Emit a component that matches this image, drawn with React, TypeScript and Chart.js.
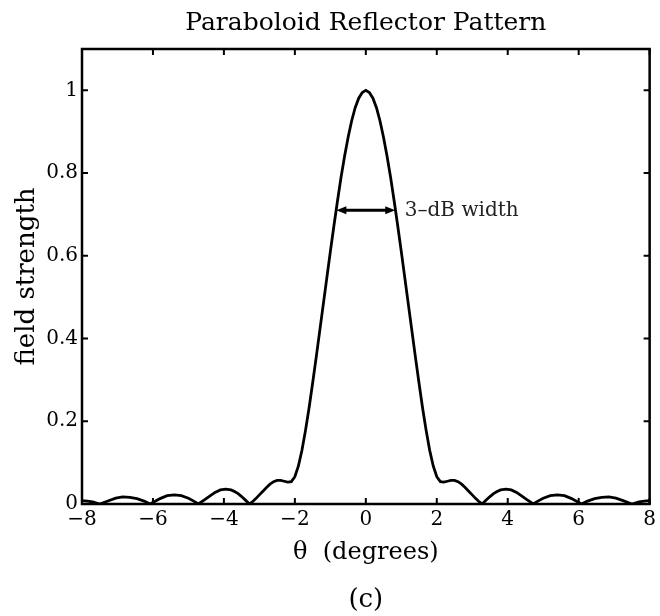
import { useEffect, useRef } from 'react';
import { Chart, registerables } from 'chart.js';

Chart.register(...registerables);

// ---- data ----
const thetaDeg = [
  -8.0, -7.85, -7.7, -7.5, -7.25, -7.05, -6.85, -6.65, -6.45, -6.25, -6.08,
  -5.95, -5.8, -5.6, -5.4, -5.2, -5.0, -4.85, -4.72, -4.55, -4.4, -4.25, -4.1,
  -3.95, -3.8, -3.7, -3.6, -3.5, -3.4, -3.28, -3.2, -3.1, -3.0, -2.9, -2.8,
  -2.7, -2.6, -2.5, -2.4, -2.3, -2.2, -2.1, -2.0, -1.9, -1.8, -1.7, -1.6, -1.5,
  -1.4, -1.3, -1.2, -1.1, -1.0, -0.9, -0.8, -0.7, -0.6, -0.5, -0.4, -0.3, -0.2,
  -0.1, 0.0, 0.1, 0.2, 0.3, 0.4, 0.5, 0.6, 0.7, 0.8, 0.9, 1.0, 1.1, 1.2, 1.3,
  1.4, 1.5, 1.6, 1.7, 1.8, 1.9, 2.0, 2.1, 2.2, 2.3, 2.4, 2.5, 2.6, 2.7, 2.8,
  2.9, 3.0, 3.1, 3.2, 3.28, 3.4, 3.5, 3.6, 3.7, 3.8, 3.95, 4.1, 4.25, 4.4, 4.55,
  4.72, 4.85, 5.0, 5.2, 5.4, 5.6, 5.8, 5.95, 6.08, 6.25, 6.45, 6.65, 6.85, 7.05,
  7.25, 7.5, 7.7, 7.85, 8.0,
];

const fieldStrength = [
  0.008, 0.007, 0.005, 0.0, 0.008, 0.014, 0.017, 0.016, 0.013, 0.007, 0.0,
  0.006, 0.013, 0.02, 0.022, 0.02, 0.014, 0.007, 0.0, 0.01, 0.019, 0.028, 0.034,
  0.036, 0.034, 0.03, 0.025, 0.018, 0.01, 0.0, 0.005, 0.013, 0.022, 0.031, 0.04,
  0.048, 0.054, 0.057, 0.057, 0.055, 0.053, 0.054, 0.066, 0.092, 0.13, 0.178,
  0.232, 0.292, 0.354, 0.418, 0.482, 0.546, 0.61, 0.672, 0.732, 0.789, 0.84,
  0.886, 0.926, 0.958, 0.981, 0.995, 1.0, 0.995, 0.981, 0.958, 0.926, 0.886,
  0.84, 0.789, 0.732, 0.672, 0.61, 0.546, 0.482, 0.418, 0.354, 0.292, 0.232,
  0.178, 0.13, 0.092, 0.066, 0.054, 0.053, 0.055, 0.057, 0.057, 0.054, 0.048,
  0.04, 0.031, 0.022, 0.013, 0.005, 0.0, 0.01, 0.018, 0.025, 0.03, 0.034, 0.036,
  0.034, 0.028, 0.019, 0.01, 0.0, 0.007, 0.014, 0.02, 0.022, 0.02, 0.013, 0.006,
  0.0, 0.007, 0.013, 0.016, 0.017, 0.014, 0.008, 0.0, 0.005, 0.007, 0.008,
];

const xRange = [-8, 8];
const yRange = [0, 1.1];
const xStep = 2;
const yStep = 0.2;

// 3-dB width annotation
const arrowEnds = [-0.83, 0.83];
const arrowLevel = 0.71;
const arrowLabelAt = 1.1;
const arrowLabel = '3\u2013dB width';

const titleText = 'Paraboloid Reflector Pattern';
const xTitle = '\u03b8  (degrees)';
const yTitle = 'field strength';
const captionText = '(c)';

const FONT = '"DejaVu Serif", "Liberation Serif", serif';

export default function App() {
  const ref = useRef<HTMLCanvasElement>(null);

  useEffect(() => {
    const canvas = ref.current;
    if (!canvas) return;

    const framePlugin = {
      id: 'frameTicksArrow',
      afterDatasetsDraw(chart: any) {
        const { ctx, chartArea: a, scales } = chart;
        const xs = scales.x;
        const ys = scales.y;
        const TL = 6;
        ctx.save();
        ctx.strokeStyle = '#000';
        ctx.lineWidth = 2.5;
        ctx.strokeRect(a.left, a.top, a.right - a.left, a.bottom - a.top);
        ctx.lineWidth = 2;
        ctx.beginPath();
        for (const t of xs.ticks) {
          const px = xs.getPixelForValue(t.value);
          ctx.moveTo(px, a.bottom);
          ctx.lineTo(px, a.bottom - TL);
          ctx.moveTo(px, a.top);
          ctx.lineTo(px, a.top + TL);
        }
        for (const t of ys.ticks) {
          const py = ys.getPixelForValue(t.value);
          ctx.moveTo(a.left, py);
          ctx.lineTo(a.left + TL, py);
          ctx.moveTo(a.right, py);
          ctx.lineTo(a.right - TL, py);
        }
        ctx.stroke();

        // double-headed arrow
        const x0 = xs.getPixelForValue(arrowEnds[0]);
        const x1 = xs.getPixelForValue(arrowEnds[1]);
        const yy = ys.getPixelForValue(arrowLevel);
        const HL = 10;
        const HW = 4;
        ctx.lineWidth = 3;
        ctx.beginPath();
        ctx.moveTo(x0 + HL - 1, yy);
        ctx.lineTo(x1 - HL + 1, yy);
        ctx.stroke();
        ctx.fillStyle = '#000';
        ctx.beginPath();
        ctx.moveTo(x0, yy);
        ctx.lineTo(x0 + HL, yy - HW);
        ctx.lineTo(x0 + HL, yy + HW);
        ctx.closePath();
        ctx.fill();
        ctx.beginPath();
        ctx.moveTo(x1, yy);
        ctx.lineTo(x1 - HL, yy - HW);
        ctx.lineTo(x1 - HL, yy + HW);
        ctx.closePath();
        ctx.fill();

        ctx.fillStyle = '#222';
        ctx.font = `20px ${FONT}`;
        ctx.textAlign = 'left';
        ctx.textBaseline = 'middle';
        ctx.fillText(arrowLabel, xs.getPixelForValue(arrowLabelAt), yy);
        ctx.restore();
      },
    };

    const chart = new Chart(canvas, {
      type: 'line',
      data: {
        datasets: [
          {
            data: thetaDeg.map((t, i) => ({ x: t, y: fieldStrength[i] })),
            borderColor: '#000',
            borderWidth: 2.8,
            pointRadius: 0,
            tension: 0,
            fill: false,
          },
        ],
      },
      options: {
        animation: false,
        responsive: false,
        maintainAspectRatio: false,
        layout: { padding: { left: 0, right: 7, top: 0, bottom: 0 } },
        plugins: {
          legend: { display: false },
          tooltip: { enabled: false },
          title: {
            display: true,
            text: titleText,
            fullSize: false,
            color: '#000',
            font: { family: FONT, size: 25, weight: 'normal' },
            padding: { top: 8, bottom: 11 },
          },
          subtitle: {
            display: true,
            text: captionText,
            position: 'bottom',
            fullSize: false,
            color: '#000',
            font: { family: FONT, size: 26, weight: 'normal' },
            padding: { top: 0, bottom: 0.4 },
          },
        },
        scales: {
          x: {
            type: 'linear',
            min: xRange[0],
            max: xRange[1],
            grid: { display: false, drawTicks: false },
            border: { display: false },
            ticks: {
              stepSize: xStep,
              padding: 4,
              color: '#000',
              font: { family: FONT, size: 20 },
              callback: (v: any) => String(v).replace('-', '\u2212'),
            },
            title: {
              display: true,
              text: xTitle,
              color: '#000',
              font: { family: FONT, size: 24 },
              padding: { top: 0, bottom: 17 },
            },
            afterFit: (s: any) => {
              s.height = 80.4;
            },
          },
          y: {
            type: 'linear',
            min: yRange[0],
            max: yRange[1],
            grid: { display: false, drawTicks: false },
            border: { display: false },
            ticks: {
              stepSize: yStep,
              includeBounds: false,
              padding: 4,
              color: '#000',
              font: { family: FONT, size: 20 },
              callback: (v: any) => String(Math.round(Number(v) * 10) / 10),
            },
            title: {
              display: true,
              text: yTitle,
              color: '#000',
              font: { family: FONT, size: 26 },
              padding: { top: 12, bottom: 0 },
            },
            afterFit: (s: any) => {
              s.width = 82;
            },
          },
        },
      },
      plugins: [framePlugin],
    });

    return () => chart.destroy();
  }, []);

  return (
    <div style={{ position: 'absolute', left: 0, top: 0, width: 660, height: 616, background: '#fff' }}>
      <canvas ref={ref} width={660} height={616} />
    </div>
  );
}
